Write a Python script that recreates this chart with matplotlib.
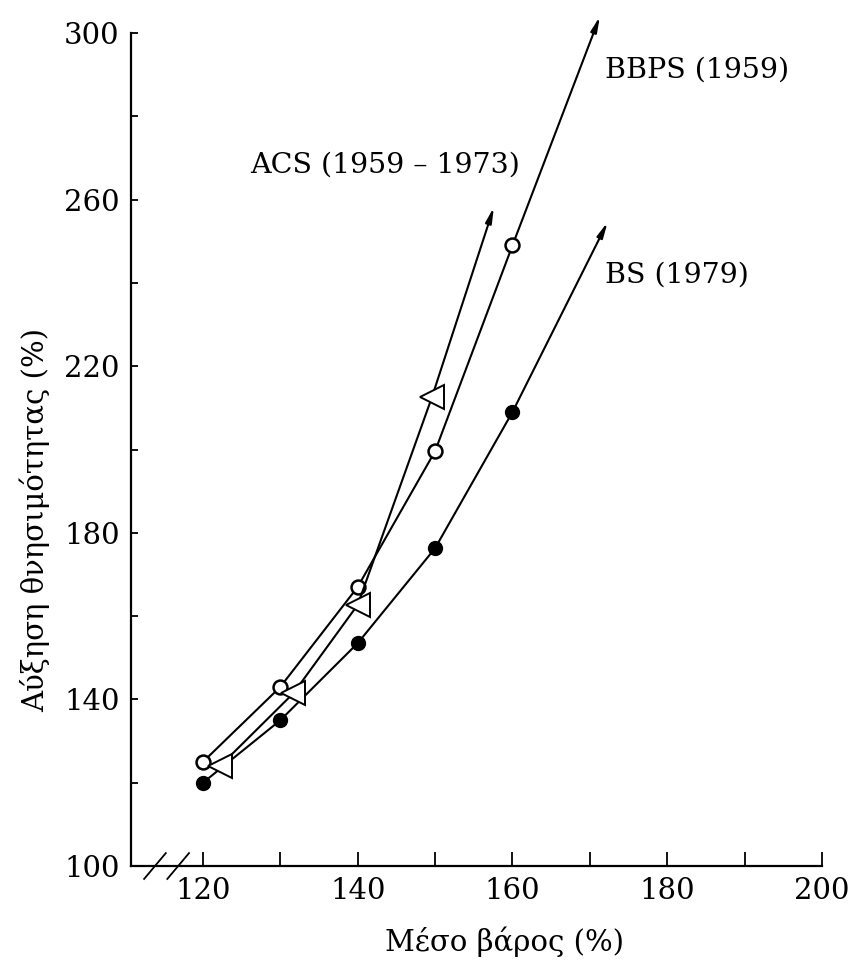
import matplotlib
matplotlib.use("Agg")
import matplotlib.pyplot as plt

# data
x_pts = [120, 130, 140, 150, 160]
bbps_y = [125, 143, 167, 199.6, 249]
bbps_tip = (171.3, 304)
bs_y = [120, 135, 153.5, 176.3, 209]
bs_tip = (172.3, 254.6)
acs_x = [122.2, 131.7, 140, 149.6]
acs_y = [124, 141.5, 162.7, 212.6]
acs_tip = (157.6, 258.2)

y_major = [100, 140, 180, 220, 260, 300]
y_minor = [120, 160, 200, 240, 280]
x_major = [120, 140, 160, 180, 200]
x_minor = [130, 150, 170, 190]

plt.rcParams["font.family"] = ["DejaVu Serif"]
fig = plt.figure(figsize=(8.51, 9.63), dpi=100)
ax = fig.add_axes([0.1539, 0.1007, 0.812, 0.865])
ax.set_xlim(110.7, 200)
ax.set_ylim(100, 300)

lw = 1.5
ax.plot(x_pts, bs_y, color="black", lw=lw, marker="o", ms=10,
        mfc="black", mec="black", zorder=3)
ax.plot(x_pts, bbps_y, color="black", lw=lw, marker="o", ms=10,
        mfc="white", mec="black", mew=1.8, zorder=4)
ax.plot(acs_x, acs_y, color="black", lw=lw, marker="<", ms=17,
        mfc="white", mec="black", mew=1.4, zorder=5)

arrow = dict(arrowstyle="-|>,head_length=0.9,head_width=0.18",
             color="black", lw=lw, shrinkA=0, shrinkB=0)
for (x0, y0), tip in [((x_pts[-1], bs_y[-1]), bs_tip),
                      ((x_pts[-1], bbps_y[-1]), bbps_tip),
                      ((acs_x[-1], acs_y[-1]), acs_tip)]:
    ax.annotate("", xy=tip, xytext=(x0, y0), arrowprops=arrow,
                annotation_clip=False, zorder=2)

ax.text(171.9, 291.1, "BBPS (1959)", fontsize=20.5, va="center", ha="left")
ax.text(126.1, 268.3, "ACS (1959 – 1973)", fontsize=20.5, va="center", ha="left")
ax.text(171.9, 241.9, "BS (1979)", fontsize=20.5, va="center", ha="left")

ax.spines[["top", "right"]].set_visible(False)
for s in ("left", "bottom"):
    ax.spines[s].set_linewidth(1.6)

ax.set_yticks(y_major)
ax.set_yticks(y_minor, minor=True)
ax.set_xticks(x_major)
ax.set_xticks(x_minor, minor=True)
ax.tick_params(axis="y", which="both", direction="in", length=5, width=1.3,
               labelsize=21, pad=8)
ax.tick_params(axis="x", which="both", direction="in", length=10, width=1.3,
               labelsize=21, pad=8)

ax.set_xlabel("Μέσο βάρος (%)", fontsize=21)
ax.set_ylabel("Αύξηση θνησιμότητας (%)", fontsize=21)
ax.xaxis.set_label_coords(0.541, -0.091)
ax.yaxis.set_label_coords(-0.139, 0.415)
ax.xaxis.label.set_va("center")
ax.yaxis.label.set_va("center")

# axis break marks on the x axis
for xb in (113.8, 116.8):
    ax.plot([xb - 1.4, xb + 1.4], [96.9, 103.1], color="black", lw=1.3,
            clip_on=False)

fig.savefig("out.png", dpi=100)
